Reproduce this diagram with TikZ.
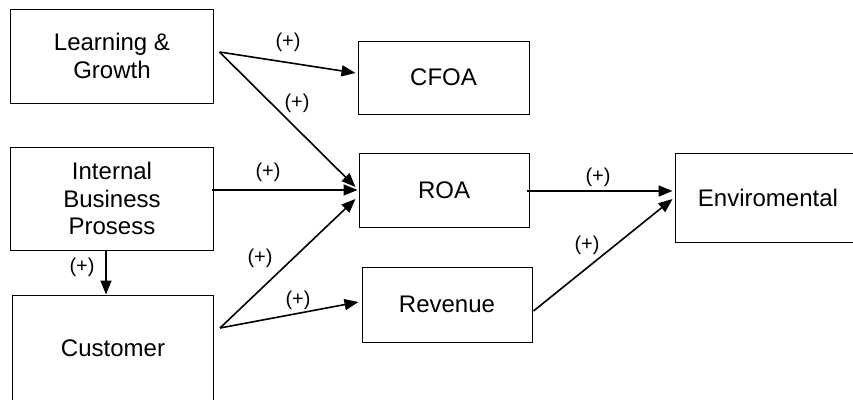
\documentclass[tikz,border=0pt]{standalone}
\usepackage{fontspec}
\setmainfont{Liberation Sans}
\usetikzlibrary{arrows.meta,calc}
\begin{document}
\begin{tikzpicture}[x=1pt,y=-1pt,
  box/.style={draw,line width=1pt,rectangle,inner sep=0pt,align=center,
    font=\fontsize{24}{27.5}\selectfont},
  arr/.style={line width=1.6pt,-{Triangle[length=14pt,width=11pt]}},
  lbl/.style={font=\fontsize{20}{22}\selectfont,inner sep=0pt}]
\clip (0,0) rectangle (853,399);
\fill[white] (0,0) rectangle (853,399);
\node[box,minimum width=203pt,minimum height=94pt] (lg) at (112,56) {Learning \&\\Growth};
\node[box,minimum width=203pt,minimum height=103pt] (ibp) at (112,198.5) {Internal\\Business\\Prosess};
\node[box,minimum width=201pt,minimum height=106pt] (cust) at (113,348) {Customer};
\node[box,minimum width=171pt,minimum height=73pt] (cfoa) at (443.5,77.5) {CFOA};
\node[box,minimum width=170pt,minimum height=74pt] (roa) at (444,190) {ROA};
\node[box,minimum width=170pt,minimum height=75pt] (rev) at (447,304.5) {Revenue};
\node[box,minimum width=186pt,minimum height=89pt] (env) at (768,197.5) {Enviromental};
\draw[arr] ($(lg.east)+(5.5,-4)$) -- ($(cfoa.west)+(-2,-4.5)$);
\draw[arr] ($(lg.east)+(5.5,-4)$) -- ($(roa.west)+(-3,-3)$);
\draw[arr] ($(ibp.east)+(-2,-8.5)$) -- ($(roa.west)+(-1,0)$);
\draw[arr] ($(cust.east)+(6,-20)$) -- ($(roa.west)+(-3,9)$);
\draw[arr] ($(cust.east)+(6,-20)$) -- ($(rev.west)+(-3,-2.5)$);
\draw[arr] ($(ibp.south)+(-6,0)$) -- ($(cust.north)+(-7,0)$);
\draw[arr] ($(roa.east)+(-3,1)$) -- ($(env.west)+(-2,-6.5)$);
\draw[arr] ($(rev.east)+(1,6.5)$) -- ($(env.west)+(-2,1.5)$);
\node[lbl] (l1) at (288,42) {(+)};
\node[lbl] (l2) at (297,103) {(+)};
\node[lbl] (l3) at (268,172) {(+)};
\node[lbl] (l4) at (260,258) {(+)};
\node[lbl] (l5) at (298,300) {(+)};
\node[lbl] (l6) at (82,267) {(+)};
\node[lbl] (l7) at (598,177) {(+)};
\node[lbl] (l8) at (587,245) {(+)};
\end{tikzpicture}
\end{document}
